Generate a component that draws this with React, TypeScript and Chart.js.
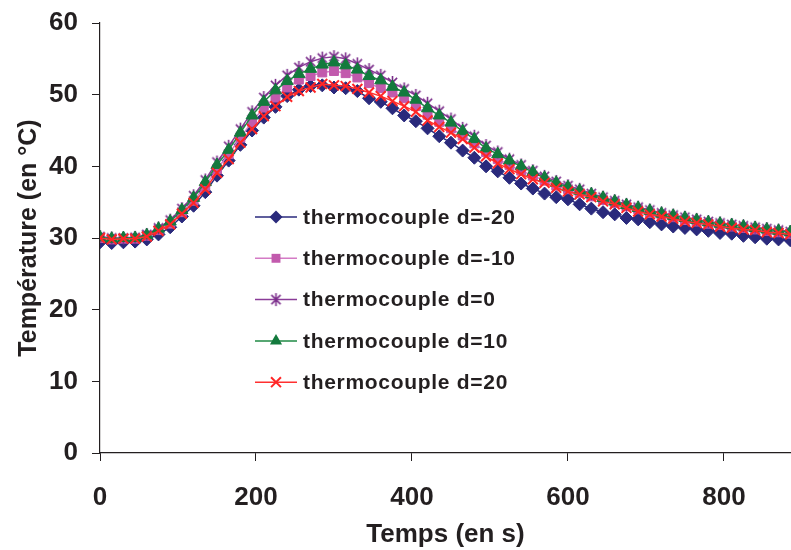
import { useEffect, useRef } from 'react';
import { Chart, registerables } from 'chart.js';

Chart.register(...registerables);

// Time (s)
const times = [
  0, 15, 30, 45, 60, 75, 90, 105, 120, 135, 150, 165, 180, 195, 210, 225, 240, 255, 270, 285,
  300, 315, 330, 345, 360, 375, 390, 405, 420, 435, 450, 465, 480, 495, 510, 525, 540, 555, 570, 585,
  600, 615, 630, 645, 660, 675, 690, 705, 720, 735, 750, 765, 780, 795, 810, 825, 840, 855, 870, 885,
];

// Temperatures (°C)
const dMinus20 = [
  29.4, 29.3, 29.4, 29.5, 29.8, 30.5, 31.5, 33.0, 34.5, 36.4, 38.7, 40.8, 43.0, 45.0, 46.8, 48.3, 49.8, 50.7, 51.2, 51.3,
  51.0, 50.9, 50.5, 49.5, 49.0, 48.1, 47.1, 46.3, 45.3, 44.2, 43.3, 42.2, 41.2, 40.0, 39.3, 38.4, 37.6, 36.9, 36.2, 35.7,
  35.4, 34.7, 34.1, 33.6, 33.3, 32.8, 32.6, 32.2, 31.9, 31.6, 31.4, 31.2, 31.0, 30.7, 30.6, 30.3, 30.1, 29.9, 29.8, 29.7,
];
const dMinus10 = [
  30.0, 29.8, 29.9, 29.9, 30.3, 31.1, 32.0, 33.6, 35.2, 37.2, 39.6, 41.7, 44.0, 46.2, 48.2, 49.6, 51.0, 52.1, 52.6, 53.1,
  53.3, 53.0, 52.4, 51.6, 50.9, 50.3, 49.5, 48.4, 47.2, 46.2, 45.3, 44.3, 43.2, 42.0, 41.0, 40.2, 39.4, 38.7, 38.0, 37.3,
  36.8, 36.3, 35.8, 35.3, 34.9, 34.4, 34.0, 33.5, 33.2, 32.9, 32.5, 32.3, 32.0, 31.8, 31.6, 31.4, 31.2, 31.0, 30.8, 30.6,
];
const d0 = [
  30.2, 30.0, 30.0, 30.1, 30.5, 31.4, 32.5, 34.1, 35.9, 38.1, 40.6, 42.8, 45.2, 47.6, 49.6, 51.3, 52.7, 53.8, 54.6, 55.1,
  55.3, 55.0, 54.3, 53.5, 52.7, 51.7, 50.8, 49.9, 48.8, 47.7, 46.6, 45.3, 44.2, 42.9, 42.0, 41.0, 40.2, 39.4, 38.6, 37.9,
  37.3, 36.8, 36.2, 35.7, 35.2, 34.7, 34.3, 33.9, 33.5, 33.2, 32.9, 32.6, 32.3, 32.1, 31.9, 31.7, 31.5, 31.3, 31.1, 30.9,
];
const d10 = [
  30.1, 29.9, 30.0, 30.0, 30.4, 31.3, 32.3, 33.9, 35.6, 37.8, 40.2, 42.3, 44.7, 47.1, 49.0, 50.6, 51.9, 52.9, 53.6, 54.2,
  54.5, 54.1, 53.5, 52.6, 52.0, 51.1, 50.3, 49.3, 48.1, 47.1, 46.1, 44.9, 43.8, 42.5, 41.7, 40.8, 40.0, 39.2, 38.4, 37.7,
  37.1, 36.6, 36.1, 35.6, 35.1, 34.6, 34.2, 33.8, 33.4, 33.1, 32.8, 32.5, 32.2, 32.0, 31.8, 31.6, 31.4, 31.2, 31.0, 30.8,
];
const d20 = [
  30.0, 29.8, 29.9, 29.9, 30.2, 31.0, 31.9, 33.4, 34.9, 36.8, 39.1, 41.0, 43.3, 45.2, 47.0, 48.4, 49.7, 50.5, 51.0, 51.5,
  51.3, 51.2, 50.8, 50.3, 49.8, 49.1, 48.4, 47.6, 46.4, 45.5, 44.7, 43.8, 42.6, 41.4, 40.4, 39.6, 38.9, 38.2, 37.7, 37.0,
  36.5, 36.1, 35.7, 35.1, 34.7, 34.2, 33.7, 33.3, 33.0, 32.7, 32.3, 32.1, 31.9, 31.6, 31.4, 31.2, 31.1, 30.8, 30.7, 30.5,
];

const seriesNames = [
  'thermocouple d=-20',
  'thermocouple d=-10',
  'thermocouple d=0',
  'thermocouple d=10',
  'thermocouple d=20',
];
const seriesValues = [dMinus20, dMinus10, d0, d10, d20];

const xTickValues = [0, 200, 400, 600, 800];
const yTickValues = [0, 10, 20, 30, 40, 50, 60];

const xTitle = 'Temps (en s)';
const yTitle = 'Température (en °C)';

const colors = ['#2A2A7C', '#C25AAD', '#7B2D8B', '#137A3D', '#FF2626'];
const lineColors = ['#2A2A7C', '#D47BC5', '#8A3C98', '#1F8A45', '#FF3030'];
const styles = ['rectRot', 'rect', 'star6', 'triangle', 'crossRot'];
const radii = [6.5, 6.3, 7, 7, 7];

const AXIS = '#231F20';
const FONT = "'Liberation Sans', Arial, sans-serif";

function makeStar(color: string, size: number) {
  const c = document.createElement('canvas');
  c.width = size;
  c.height = size;
  const g = c.getContext('2d')!;
  g.strokeStyle = color;
  g.lineWidth = 1.6;
  const m = size / 2;
  const r = size / 2 - 1;
  g.beginPath();
  g.moveTo(m, m - r);
  g.lineTo(m, m + r);
  const d = r * Math.SQRT1_2;
  g.moveTo(m - d, m - d);
  g.lineTo(m + d, m + d);
  g.moveTo(m + d, m - d);
  g.lineTo(m - d, m + d);
  g.stroke();
  return c;
}

function drawMarker(ctx: CanvasRenderingContext2D, style: any, x: number, y: number, r: number, color: string) {
  ctx.save();
  ctx.fillStyle = color;
  ctx.strokeStyle = color;
  ctx.lineWidth = 2;
  if (style instanceof HTMLCanvasElement) {
    ctx.drawImage(style, x - style.width / 2, y - style.height / 2);
  } else if (style === 'rectRot') {
    ctx.beginPath();
    ctx.moveTo(x, y - r);
    ctx.lineTo(x + r, y);
    ctx.lineTo(x, y + r);
    ctx.lineTo(x - r, y);
    ctx.closePath();
    ctx.fill();
  } else if (style === 'rect') {
    const s = r * Math.SQRT1_2;
    ctx.fillRect(x - s, y - s, 2 * s, 2 * s);
  } else if (style === 'triangle') {
    ctx.beginPath();
    ctx.moveTo(x, y - r);
    ctx.lineTo(x + r * 0.866, y + r * 0.5);
    ctx.lineTo(x - r * 0.866, y + r * 0.5);
    ctx.closePath();
    ctx.fill();
  } else if (style === 'crossRot') {
    const d = r * Math.SQRT1_2;
    ctx.beginPath();
    ctx.moveTo(x - d, y - d);
    ctx.lineTo(x + d, y + d);
    ctx.moveTo(x + d, y - d);
    ctx.lineTo(x - d, y + d);
    ctx.stroke();
  }
  ctx.restore();
}

export default function App() {
  const canvasRef = useRef<HTMLCanvasElement | null>(null);

  useEffect(() => {
    const canvas = canvasRef.current;
    if (!canvas) return;
    const star = makeStar(colors[2], 15);
    const pointStyles: any[] = styles.map((s) => (s === 'star6' ? star : s));

    const datasets = seriesValues.map((vals, i) => ({
      label: seriesNames[i],
      data: times.map((t, k) => ({ x: t, y: vals[k] })),
      borderColor: lineColors[i],
      backgroundColor: colors[i],
      pointBackgroundColor: colors[i],
      pointBorderColor: colors[i],
      pointBorderWidth: i === 4 ? 2 : 1,
      pointStyle: pointStyles[i],
      pointRadius: radii[i],
      borderWidth: 1.5,
      tension: 0,
      order: 5 - i,
    }));

    const legendPlugin = {
      id: 'insideLegend',
      afterDraw(chart: any) {
        const ctx: any = chart.ctx;
        ctx.save();
        const x0 = 255;
        const x1 = 297;
        const y0 = 217;
        const dy = 41.3;
        seriesNames.forEach((name, i) => {
          const y = y0 + i * dy;
          ctx.strokeStyle = lineColors[i];
          ctx.lineWidth = 1.5;
          ctx.beginPath();
          ctx.moveTo(x0, y);
          ctx.lineTo(x1, y);
          ctx.stroke();
          drawMarker(ctx, pointStyles[i], (x0 + x1) / 2, y, radii[i], colors[i]);
          ctx.fillStyle = AXIS;
          ctx.font = `bold 21px ${FONT}`;
          ctx.letterSpacing = '0.7px';
          ctx.textBaseline = 'middle';
          ctx.textAlign = 'left';
          ctx.fillText(name, 303, y + 1);
        });
        ctx.restore();
      },
    };

    const chart = new Chart(canvas, {
      type: 'line',
      data: { datasets },
      options: {
        animation: false,
        responsive: false,
        devicePixelRatio: 1,
        layout: { autoPadding: false, padding: { top: 23, right: 0, left: 0, bottom: 0 } },
        plugins: {
          legend: { display: false },
          tooltip: { enabled: false },
        },
        scales: {
          x: {
            type: 'linear',
            min: 0,
            max: 886,
            afterFit: (scale: any) => {
              scale.height = 97;
              scale.paddingLeft = 0;
              scale.paddingRight = 0;
            },
            afterBuildTicks: (scale: any) => {
              scale.ticks = xTickValues.map((v) => ({ value: v }));
            },
            ticks: {
              font: { family: FONT, size: 26, weight: 'bold' },
              color: AXIS,
              padding: 21,
              maxRotation: 0,
              autoSkip: false,
            },
            grid: {
              display: true,
              drawOnChartArea: false,
              drawTicks: true,
              tickLength: 8,
              color: AXIS,
            },
            border: { display: true, color: AXIS, width: 1.2 },
            title: {
              display: true,
              text: xTitle,
              font: { family: FONT, size: 26, weight: 'bold' },
              color: AXIS,
              padding: { top: 0, bottom: 0 },
            },
          },
          y: {
            type: 'linear',
            min: 0,
            max: 60,
            afterFit: (scale: any) => {
              scale.width = 100;
              scale.paddingTop = 0;
              scale.paddingBottom = 0;
            },
            afterBuildTicks: (scale: any) => {
              scale.ticks = yTickValues.map((v) => ({ value: v }));
            },
            ticks: {
              font: { family: FONT, size: 26, weight: 'bold' },
              color: AXIS,
              padding: 14,
              autoSkip: false,
            },
            grid: {
              display: true,
              drawOnChartArea: false,
              drawTicks: true,
              tickLength: 8,
              color: AXIS,
            },
            border: { display: true, color: AXIS, width: 1.2 },
            title: {
              display: true,
              text: yTitle,
              font: { family: FONT, size: 25, weight: 'bold' },
              color: AXIS,
              padding: { top: 14, bottom: 0 },
            },
          },
        },
      } as any,
      plugins: [legendPlugin],
    });

    return () => {
      chart.destroy();
    };
  }, []);

  return (
    <div style={{ position: 'fixed', left: 0, top: 0, width: 791, height: 550, background: '#fff' }}>
      <canvas ref={canvasRef} width={791} height={550} style={{ width: 791, height: 550, display: 'block' }} />
    </div>
  );
}
